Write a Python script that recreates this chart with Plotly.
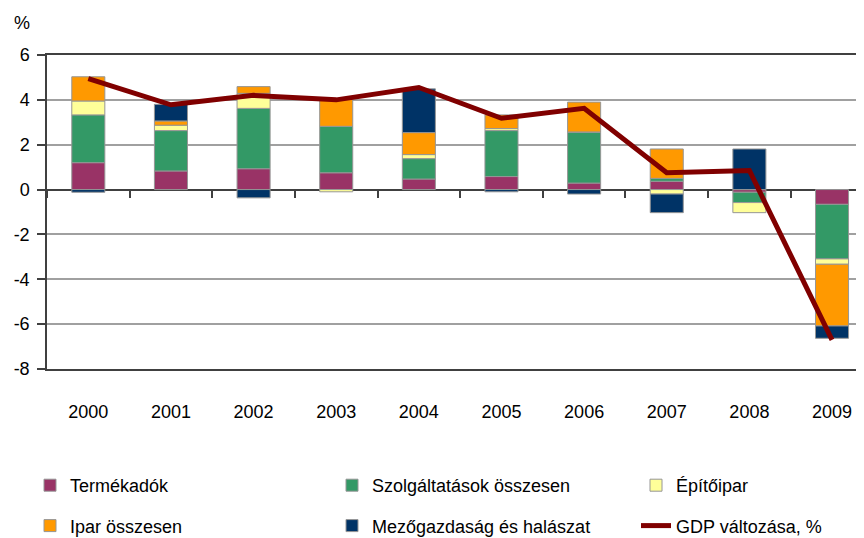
import plotly.graph_objects as go

years = ["2000", "2001", "2002", "2003", "2004", "2005", "2006", "2007", "2008", "2009"]

termekadok = [1.20, 0.83, 0.93, 0.75, 0.47, 0.58, 0.29, 0.37, -0.12, -0.66]
szolgaltatasok = [2.13, 1.80, 2.69, 2.07, 0.91, 2.05, 2.26, 0.13, -0.46, -2.43]
epitoipar = [0.62, 0.24, 0.67, -0.10, 0.18, 0.09, 0.02, -0.20, -0.45, -0.24]
ipar = [1.08, 0.19, 0.30, 1.21, 0.98, 0.61, 1.33, 1.31, 0.00, -2.75]
mezogazdasag = [-0.12, 0.74, -0.37, 0.00, 1.95, -0.10, -0.20, -0.83, 1.81, -0.55]
gdp = [4.95, 3.78, 4.20, 4.00, 4.55, 3.18, 3.62, 0.75, 0.85, -6.70]

ytick_vals = [-8, -6, -4, -2, 0, 2, 4, 6]
ytick_text = ["-8", "-6", "-4", "-2", "0", "2", "4", "6"]

FONT = "Liberation Sans, Arial, sans-serif"
BORDER = "#969696"

# page body adds an 8px offset; figure is sized so the plot fills the window
W, H = 856, 530
OFF = 8

series = [
    ("Termékadók", termekadok, "#993366", "legend", "g1"),
    ("Szolgáltatások összesen", szolgaltatasok, "#339966", "legend2", "g2"),
    ("Építőipar", epitoipar, "#FFFF99", "legend3", "g3"),
    ("Ipar összesen", ipar, "#FF9900", "legend", "g4"),
    ("Mezőgazdaság és halászat", mezogazdasag, "#003366", "legend2", "g5"),
]

fig = go.Figure()
for name, vals, color, leg, grp in series:
    fig.add_trace(go.Bar(
        x=years, y=vals, name=name, width=0.4,
        marker=dict(color=color, line=dict(color=BORDER, width=1)),
        legend=leg, legendgroup=grp,
    ))

fig.add_trace(go.Scatter(
    x=years, y=gdp, name="GDP változása, %", mode="lines",
    line=dict(color="#800000", width=5),
    xaxis="x2", yaxis="y", legend="legend3", legendgroup="g6",
))

xr = [-0.5, 9.387]
legend_common = dict(
    xref="container", yref="container", xanchor="left", yanchor="top",
    y=1 - (467 - OFF) / H,
    orientation="v", traceorder="grouped", tracegroupgap=14,
    font=dict(family=FONT, size=18, color="black"), bgcolor="rgba(0,0,0,0)",
)

plot_w = W - (47 - OFF)
plot_h = 314

fig.update_layout(
    width=W, height=H,
    margin=dict(l=47 - OFF, r=0, t=55 - OFF, b=H - (55 - OFF) - plot_h, autoexpand=False),
    paper_bgcolor="white", plot_bgcolor="white",
    barmode="relative", bargap=0.6,
    font=dict(family=FONT, size=18, color="black"),
    xaxis=dict(
        type="category", categoryorder="array", categoryarray=years, range=xr,
        showline=True, linecolor="#404040", linewidth=1.5, mirror=True,
        showgrid=False, ticks="", ticklabelstandoff=26, tickangle=0,
        tickfont=dict(family=FONT, size=18, color="black"),
    ),
    xaxis2=dict(
        type="category", categoryorder="array", categoryarray=years, range=xr,
        overlaying="x", anchor="free", position=8 / 14, side="bottom",
        showline=False, showgrid=False, showticklabels=False,
        ticks="outside", tickson="boundaries", ticklen=7,
        tickcolor="#404040", tickwidth=1.5,
    ),
    yaxis=dict(
        range=[-8, 6], tickvals=ytick_vals, ticktext=ytick_text,
        showgrid=True, gridcolor="#A0A0A0", gridwidth=1.5,
        zeroline=True, zerolinecolor="#404040", zerolinewidth=1.5,
        showline=True, linecolor="#404040", linewidth=1.5, mirror=True,
        ticks="outside", ticklen=8, tickcolor="#404040", tickwidth=1.5,
        ticklabelstandoff=4,
        tickfont=dict(family=FONT, size=18, color="black"),
    ),
    legend=dict(x=(30 - OFF) / W, **legend_common),
    legend2=dict(x=(332 - OFF) / W, **legend_common),
    legend3=dict(x=(636 - OFF) / W, **legend_common),
    annotations=[dict(
        text="%", xref="paper", yref="paper",
        x=(22 - 47) / plot_w, y=1 + (55 - 23) / plot_h,
        showarrow=False, font=dict(family=FONT, size=18, color="black"),
        xanchor="center", yanchor="middle",
    )],
)

fig.write_html("out.html")
